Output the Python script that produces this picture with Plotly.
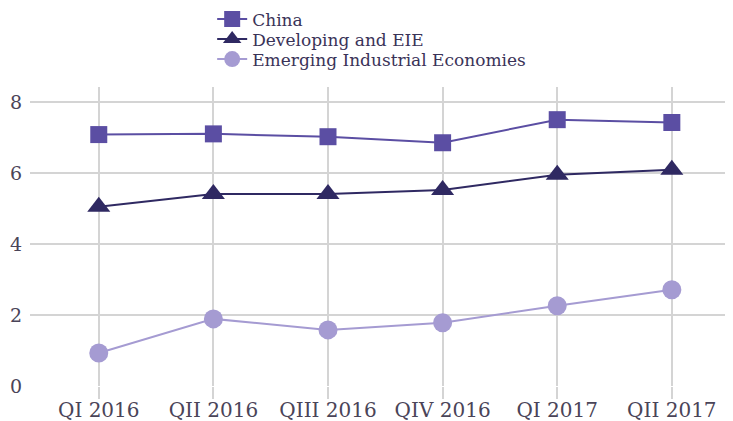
import plotly.graph_objects as go

quarters = ["QI 2016", "QII 2016", "QIII 2016", "QIV 2016", "QI 2017", "QII 2017"]
china = [7.08, 7.1, 7.02, 6.85, 7.5, 7.42]
developing = [5.05, 5.41, 5.41, 5.52, 5.95, 6.09]
emerging = [0.93, 1.89, 1.58, 1.78, 2.26, 2.71]

FONT = "DejaVu Serif"
TXT = "#4a4458"
LEG = "#3a3358"

fig = go.Figure()
fig.add_trace(go.Scatter(x=quarters, y=china, name="China", mode="lines+markers",
                         line=dict(color="#5b4ea3", width=2), legend="legend",
                         marker=dict(symbol="square", size=17, color="#5b4ea3")))
fig.add_trace(go.Scatter(x=quarters, y=developing, name="Developing and EIE", mode="lines+markers",
                         line=dict(color="#2f2962", width=2), legend="legend2",
                         marker=dict(symbol="triangle-up", size=20, color="#2f2962")))
fig.add_trace(go.Scatter(x=quarters, y=emerging, name="Emerging Industrial Economies", mode="lines+markers",
                         line=dict(color="#a59bd2", width=2), legend="legend3",
                         marker=dict(symbol="circle", size=19, color="#a59bd2")))

def leg(y):
    return dict(x=0.261, y=y, xanchor="left", yanchor="middle",
                font=dict(family=FONT, size=17, color=LEG),
                itemwidth=30, bgcolor="rgba(0,0,0,0)")

fig.update_layout(
    width=725, height=413,
    margin=dict(l=22, r=5, t=79, b=35, autoexpand=False),
    paper_bgcolor="white", plot_bgcolor="white",
    font=dict(family=FONT, color=TXT),
    showlegend=True,
    legend=leg(1.226), legend2=leg(1.159), legend3=leg(1.092),
    xaxis=dict(type="category", range=[-0.6, 5.49], showgrid=True, gridcolor="#d4d4d4", gridwidth=2,
               ticks="outside", ticklen=12, tickcolor="#d4d4d4", tickwidth=2, automargin=False,
               ticklabelstandoff=-6,
               tickfont=dict(family=FONT, size=20, color=TXT), showline=False, zeroline=False),
    yaxis=dict(range=[0, 8.42], tickvals=[0, 2, 4, 6, 8], showgrid=True, gridcolor="#d4d4d4", gridwidth=2,
               zeroline=False, showline=False, ticks="", ticklabelstandoff=7, automargin=False,
               tickfont=dict(family=FONT, size=19, color=TXT)),
)
fig.write_html("out.html")
